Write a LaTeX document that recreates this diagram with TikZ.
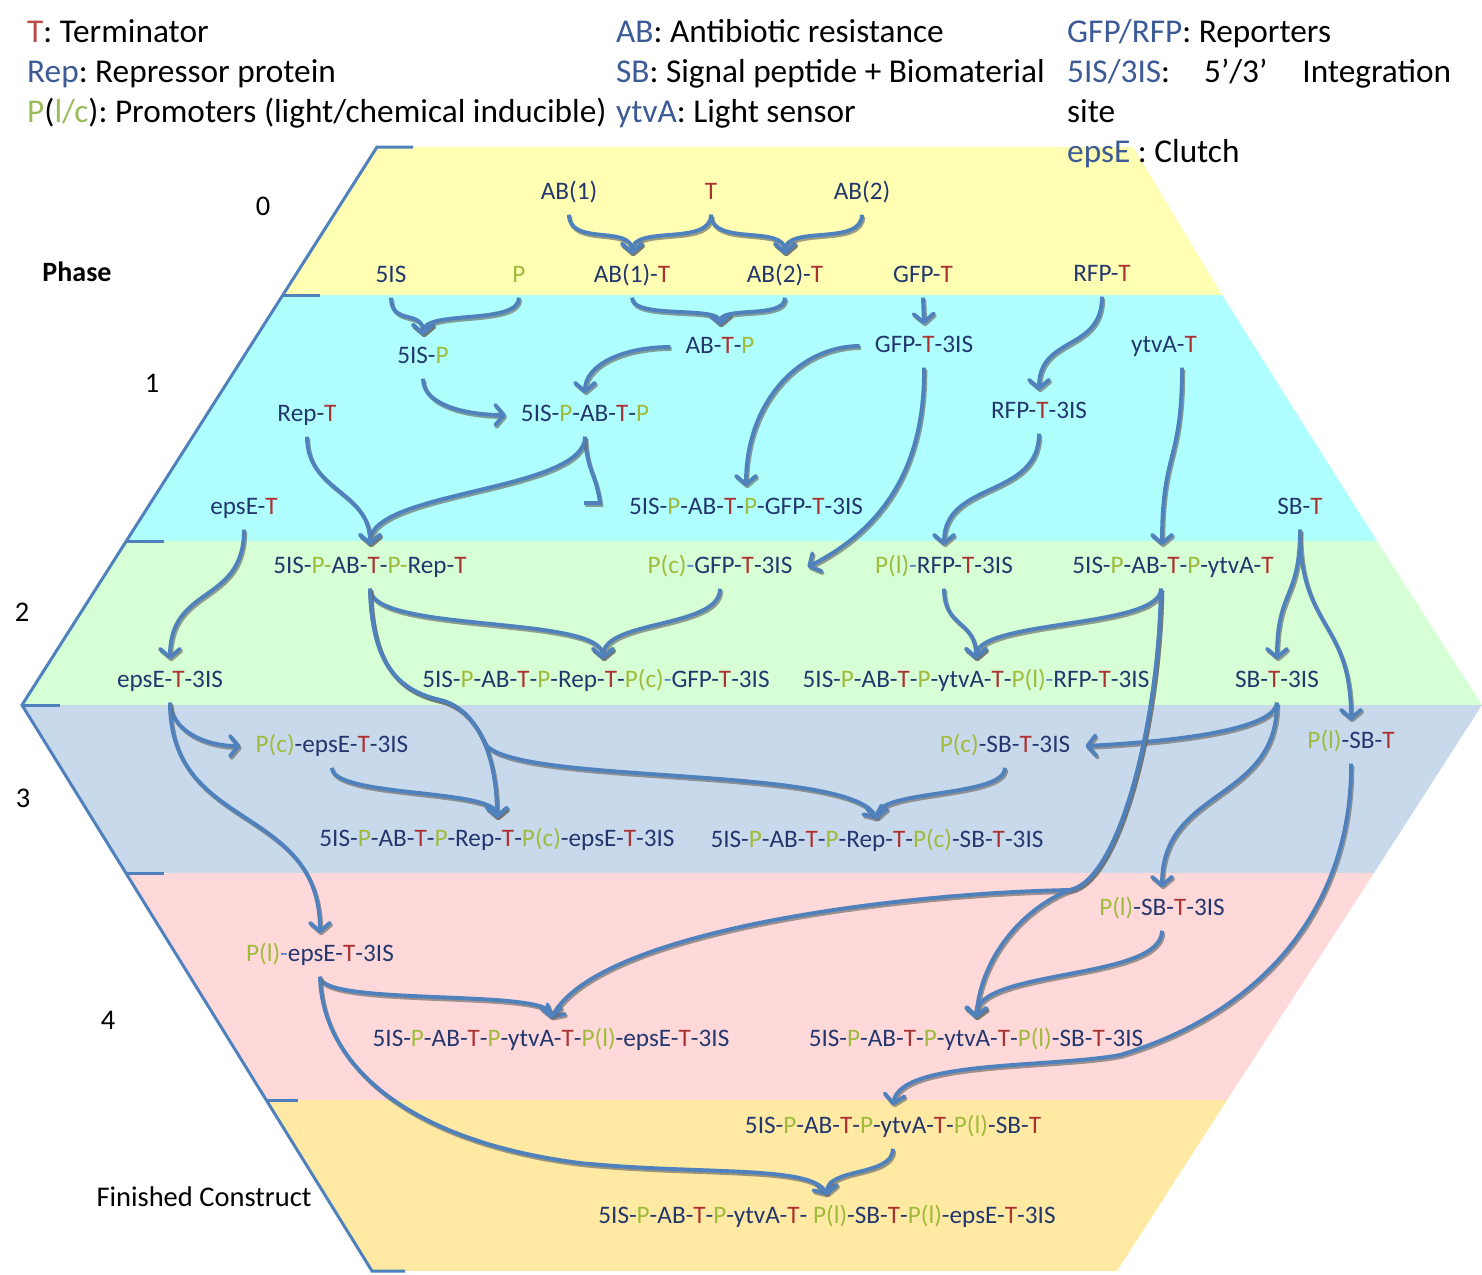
\documentclass[tikz,border=0pt]{standalone}
\usepackage{fontspec}
\setmainfont{Carlito}
\usetikzlibrary{arrows.meta,calc}
\frenchspacing
\definecolor{byel}{RGB}{255,255,179}
\definecolor{bcyn}{RGB}{175,255,255}
\definecolor{bgrn}{RGB}{214,255,214}
\definecolor{bblu}{RGB}{201,217,236}
\definecolor{bpnk}{RGB}{255,217,218}
\definecolor{borg}{RGB}{255,233,163}
\definecolor{linec}{RGB}{79,129,189}
\definecolor{shc}{RGB}{105,105,100}
\definecolor{tblue}{RGB}{35,55,110}
\definecolor{tred}{RGB}{172,50,50}
\definecolor{tgrn}{RGB}{160,187,60}
\definecolor{tlb}{RGB}{90,130,200}
\definecolor{lblue}{RGB}{60,90,150}
\definecolor{lred}{RGB}{185,75,75}
\definecolor{lgrn}{RGB}{155,187,89}
\newcommand\Rt[1]{\textcolor{tred}{#1}}
\newcommand\Gp[1]{\textcolor{tgrn}{#1}}
\newcommand\Lb[1]{\textcolor{tlb}{#1}}
\newcommand\Lg[1]{\textcolor{lblue}{#1}}
\begin{document}
\begin{tikzpicture}[x=1pt,y=-1pt,
  lab/.style={text=tblue, font=\fontsize{25.2}{29}\selectfont, text height=17pt, text depth=4pt, inner ysep=11pt, inner xsep=15pt, anchor=center},
  leg/.style={font=\fontsize{33.3}{38}\selectfont, anchor=base west, inner sep=0pt},
  ph/.style={font=\fontsize{28.5}{32}\selectfont, inner sep=0pt},
  shadowed/.style={preaction={draw=shc, draw opacity=0.65, line width=3.9pt, transform canvas={shift={(1.3pt,-2pt)}}}},
  conn/.style={draw=linec, line width=3.9pt, -{Straight Barb[length=8.5pt,width=20pt,round]}, shadowed},
  connplain/.style={draw=linec, line width=3.9pt, shadowed},
  outl/.style={draw=linec, line width=3pt}
]
\useasboundingbox (0,0) rectangle (1482,1274);
% bands
\fill[byel] (377,147) -- (1133,147) -- (1222,295) -- (283,295) -- cycle;
\fill[bcyn] (283,295) -- (1222,295) -- (1377,541) -- (126,541) -- cycle;
\fill[bgrn] (126,541) -- (1377,541) -- (1482,705) -- (22,705) -- cycle;
\fill[bblu] (22,705) -- (1482,705) -- (1374,873) -- (126,873) -- cycle;
\fill[bpnk] (126,873) -- (1374,873) -- (1227,1100) -- (266,1100) -- cycle;
\fill[borg] (266,1100) -- (1227,1100) -- (1117,1271) -- (372,1271) -- cycle;
% outline
\draw[outl] (413,147) -- (377,147) -- (22,705) -- (372,1271) -- (405,1271);
\draw[outl] (283,295) -- (320,295);
\draw[outl] (127,541) -- (164,541);
\draw[outl] (22,705) -- (60,705);
\draw[outl] (126,873) -- (164,873);
\draw[outl] (266,1100) -- (298,1100);
% legend
\node[leg] (lg1) at (27,42) {\textcolor{lred}{T}: Terminator};
\node[leg] (lg2) at (27,82) {\Lg{Rep}: Repressor protein};
\node[leg] (lg3) at (27,122) {\textcolor{lgrn}{P}(\textcolor{lgrn}{l/c}): Promoters (light/chemical inducible)};
\node[leg] (lg4) at (616,42) {\Lg{AB}: Antibiotic resistance};
\node[leg] (lg5) at (616,82) {\Lg{SB}: Signal peptide + Biomaterial};
\node[leg] (lg6) at (616,122) {\Lg{ytvA}: Light sensor};
\node[leg] (lg7) at (1067,42) {\Lg{GFP/RFP}: Reporters};
\node[leg] (lg8) at (1067,82) {\Lg{5IS/3IS}:\hspace{34pt}5’/3’\hspace{35pt}Integration};
\node[leg] (lg9) at (1067,122) {site};
\node[leg] (lg10) at (1067,162) {\Lg{epsE} : Clutch};
% phase labels
\node[ph] (ph0) at (263,206) {0};
\node[ph, font=\fontsize{28}{32}\selectfont\bfseries] (phase) at (77,272) {Phase};
\node[ph] (ph1) at (152,383) {1};
\node[ph] (ph2) at (22,612) {2};
\node[ph] (ph3) at (23,798) {3};
\node[ph] (ph4) at (108,1020) {4};
\node[ph] (fin) at (204,1197) {Finished Construct};
% construct labels
\node[lab] (nab1) at (569,193) {AB(1)};
\node[lab] (nt) at (711,193) {\Rt{T}};
\node[lab] (nab2) at (862,193) {AB(2)};
\node[lab] (n5is) at (391,276) {5IS};
\node[lab] (np) at (519,276) {\Gp{P}};
\node[lab] (nab1t) at (632,276) {AB(1)-\Rt{T}};
\node[lab] (nab2t) at (785,276) {AB(2)-\Rt{T}};
\node[lab] (ngfpt) at (923,276) {GFP-\Rt{T}};
\node[lab] (nrfpt) at (1102,275) {RFP-\Rt{T}};
\node[lab] (n5isp) at (423,357) {5IS-\Gp{P}};
\node[lab] (nabtp) at (720,347) {AB-\Rt{T}-\Gp{P}};
\node[lab] (ngfp3) at (924,346) {GFP-\Rt{T}-3IS};
\node[lab] (nytvat) at (1164,346) {ytvA-\Rt{T}};
\node[lab] (nrept) at (307,415) {Rep-\Rt{T}};
\node[lab] (n5ispabtp) at (585,415) {5IS-\Gp{P}-AB-\Rt{T}-\Gp{P}};
\node[lab] (nrfp3) at (1039,412) {RFP-\Rt{T}-3IS};
\node[lab] (nepset) at (244,508) {epsE-\Rt{T}};
\node[lab] (ngfpfull) at (746,508) {5IS-\Gp{P}-AB-\Rt{T}-\Gp{P}-GFP-\Rt{T}-3IS};
\node[lab] (nsbt) at (1300,508) {SB-\Rt{T}};
\node[lab] (nrepfull) at (370,567) {5IS-\Gp{P-}AB-\Rt{T}-\Gp{P-}Rep-\Rt{T}};
\node[lab] (npcgfp) at (720,567) {\Gp{P(c)}\Lb{-}GFP-\Rt{T}-3IS};
\node[lab] (nplrfp) at (944,567) {\Gp{P(l)}\Lb{-}RFP-\Rt{T}-3IS};
\node[lab] (nytvafull) at (1173,567) {5IS-\Gp{P}-AB-\Rt{T}-\Gp{P}-ytvA-\Rt{T}};
\node[lab] (nepse3) at (170,681) {epsE-\Rt{T}-3IS};
\node[lab] (nc1) at (596,681) {5IS-\Gp{P}-AB-\Rt{T}-\Gp{P}-Rep-\Rt{T}-\Gp{P(c)}\Lb{-}GFP-\Rt{T}-3IS};
\node[lab] (nc2) at (976,681) {5IS-\Gp{P}-AB-\Rt{T}-\Gp{P}-ytvA-\Rt{T}-\Gp{P(l)}\Lb{-}RFP-\Rt{T}-3IS};
\node[lab] (nsb3) at (1277,681) {SB-\Rt{T}-3IS};
\node[lab] (npcepse) at (332,746) {\Gp{P(c)}-epsE-\Rt{T}-3IS};
\node[lab] (npcsb) at (1005,746) {\Gp{P(c)}-SB-\Rt{T}-3IS};
\node[lab] (nplsbt) at (1351,742) {\Gp{P(l)}-SB-\Rt{T}};
\node[lab] (nc3) at (497,840) {5IS-\Gp{P}-AB-\Rt{T}-\Gp{P}-Rep-\Rt{T}-\Gp{P(c)}-epsE-\Rt{T}-3IS};
\node[lab] (nc4) at (877,841) {5IS-\Gp{P}-AB-\Rt{T}-\Gp{P}-Rep-\Rt{T}-\Gp{P(c)}-SB-\Rt{T}-3IS};
\node[lab] (nplsb3) at (1162,909) {\Gp{P(l)}-SB-\Rt{T}-3IS};
\node[lab] (nplepse) at (320,955) {\Gp{P(l)}\Lb{-}epsE-\Rt{T}-3IS};
\node[lab] (nc5) at (551,1040) {5IS-\Gp{P}-AB-\Rt{T}-\Gp{P}-ytvA-\Rt{T}-\Gp{P(l)}-epsE-\Rt{T}-3IS};
\node[lab] (nc6) at (976,1040) {5IS-\Gp{P}-AB-\Rt{T}-\Gp{P}-ytvA-\Rt{T}-\Gp{P(l)}-SB-\Rt{T}-3IS};
\node[lab] (nc7) at (893,1127) {5IS-\Gp{P}-AB-\Rt{T}-\Gp{P}-ytvA-\Rt{T}-\Gp{P(l)}-SB-\Rt{T}};
\node[lab] (nfinal) at (827,1217) {5IS-\Gp{P}-AB-\Rt{T}-\Gp{P}-ytvA-\Rt{T}- \Gp{P(l)}-SB-\Rt{T}-\Gp{P(l)}-epsE-\Rt{T}-3IS};
% phase 0 connectors
\draw[conn] (nab1.south) .. controls +(0,32) and +(0,-30) .. (nab1t.north);
\draw[conn] (nt.south) .. controls +(0,32) and +(0,-30) .. (nab1t.north);
\draw[conn] (nt.south) .. controls +(0,32) and +(0,-30) .. (nab2t.north);
\draw[conn] (nab2.south) .. controls +(0,32) and +(0,-30) .. (nab2t.north);
\draw[conn] (n5is.south) .. controls +(0,28) and +(0,-26) .. (n5isp.north);
\draw[conn] (np.south) .. controls +(0,28) and +(0,-26) .. (n5isp.north);
\draw[conn] (nab1t.south) .. controls +(0,22) and +(0,-20) .. (nabtp.north);
\draw[conn] (nab2t.south) .. controls +(0,22) and +(0,-20) .. (nabtp.north);
\draw[conn] (ngfpt.south) -- (ngfp3.north);
% phase 1 connectors
\draw[conn] (nabtp.west) .. controls +(-50,0) and +(0,-27) .. (n5ispabtp.north);
\draw[conn] (n5isp.south) .. controls +(0,27) and +(-38,0) .. (n5ispabtp.west);
\draw[conn] (ngfp3.west) .. controls +(-60,0) and +(0,-85) .. (ngfpfull.north);
\draw[conn] (ngfp3.south) .. controls +(1,102) and +(73,-37) .. (npcgfp.east);
\coordinate (hook) at (600,503);
\draw[connplain] (n5ispabtp.south) .. controls +(2,35) and +(-4,-30) .. (hook) -- ++(-16,0);
\draw[conn] (n5ispabtp.south) .. controls +(0,55) and +(0,-55) .. (nrepfull.north);
\draw[conn] (nrept.south) .. controls +(0,55) and +(0,-55) .. (nrepfull.north);
\draw[conn] (nepset.south) .. controls +(0,75) and +(0,-75) .. (nepse3.north);
\draw[conn] (nrfpt.south) .. controls +(0,55) and +(0,-55) .. (nrfp3.north);
\draw[conn] ($(nytvat.south)+(18,0)$) .. controls +(0,95) and +(0,-95) .. ($(nytvafull.north)+(-11,0)$);
\draw[conn] (nrfp3.south) .. controls +(0,65) and +(0,-65) .. (nplrfp.north);
\draw[conn] (nsbt.south) .. controls +(0,70) and +(0,-70) .. (nsb3.north);
\draw[conn] (nsbt.south) .. controls +(0,100) and +(0,-100) .. (nplsbt.north);
% phase 2 connectors
\draw[conn] (npcgfp.south) .. controls +(0,40) and +(0,-40) .. ($(nc1.north)+(7,0)$);
\draw[conn] (nrepfull.south) .. controls +(0,45) and +(0,-45) .. ($(nc1.north)+(7,0)$);
\draw[conn] (nrepfull.south) .. controls (372,660) and (395,690) .. (440,700) .. controls (480,710) and (497,760) .. (nc3.north);
\draw[conn] (nrepfull.south) .. controls (372,660) and (395,690) .. (440,700) .. controls (465,706) and (478,728) .. (486,745) .. controls (520,785) and (850,765) .. (nc4.north);
\draw[conn] (nplrfp.south) .. controls +(0,40) and +(0,-40) .. (nc2.north);
\draw[conn] ($(nytvafull.south)+(-12,0)$) .. controls +(0,40) and +(0,-40) .. (nc2.north);
\draw[conn] (nepse3.south) .. controls +(2,28) and +(-36,0) .. (npcepse.west);
\draw[conn] (nepse3.south) .. controls +(0,130) and +(0,-130) .. (nplepse.north);
\draw[conn] (nsb3.south) .. controls +(-2,23) and +(116,-6) .. (npcsb.east);
\draw[conn] (nsb3.south) .. controls +(0,100) and +(0,-100) .. (nplsb3.north);
% phase 3 connectors
\draw[conn] (npcepse.south) .. controls +(0,30) and +(0,-30) .. (nc3.north);
\draw[conn] (npcsb.south) .. controls +(0,30) and +(0,-30) .. (nc4.north);
\draw[conn] ($(nytvafull.south)+(-12,0)$) .. controls (1159,720) and (1120,880) .. (1070,890) .. controls (900,893) and (600,930) .. (nc5.north);
\draw[conn] ($(nytvafull.south)+(-12,0)$) .. controls (1159,720) and (1120,880) .. (1070,890) .. controls (1030,905) and (982,950) .. (nc6.north);
\draw[conn] (nplsbt.south) .. controls (1352,900) and (1270,1010) .. (1120,1055) .. controls (1050,1068) and (900,1060) .. (nc7.north);
% phase 4 connectors
\draw[conn] (nplsb3.south) .. controls +(0,50) and +(0,-50) .. (nc6.north);
\draw[conn] (nplepse.south) .. controls +(0,30) and +(0,-30) .. (nc5.north);
\draw[conn] (nplepse.south) .. controls (322,1060) and (400,1140) .. (580,1163) .. controls (700,1175) and (812,1165) .. (nfinal.north);
\draw[conn] (nc7.south) .. controls +(0,28) and +(0,-28) .. (nfinal.north);
\end{tikzpicture}
\end{document}
